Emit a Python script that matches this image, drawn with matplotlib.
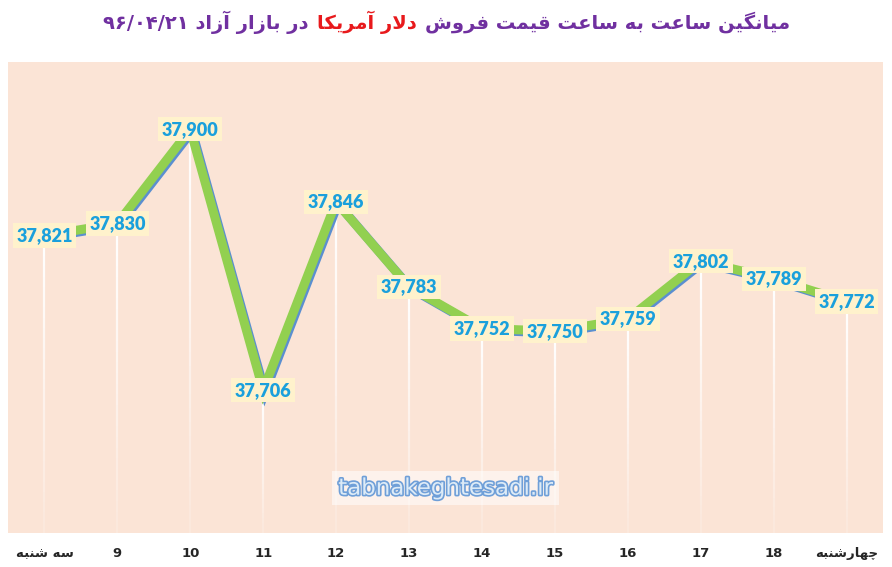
import numpy as np
import matplotlib
matplotlib.use("Agg")
import matplotlib.pyplot as plt
import matplotlib.patheffects as pe
from matplotlib.collections import LineCollection
from matplotlib.offsetbox import TextArea, HPacker, AnchoredOffsetbox

# --- data ---
hours = ["سه شنبه", "9", "10", "11", "12", "13", "14", "15", "16", "17", "18", "چهارشنبه"]
prices = [37821, 37830, 37900, 37706, 37846, 37783, 37752, 37750, 37759, 37802, 37789, 37772]
title_right = "میانگین ساعت به ساعت قیمت فروش"
title_red = "دلار آمریکا"
title_left = "در بازار آزاد ۹۶/۰۴/۲۱"
watermark = "tabnakeghtesadi.ir"

# --- simple Persian shaping (matplotlib has no bidi / shaping) ---
# letter: (isolated, final, initial, medial); two-form letters join only to the right
FORMS = {
    'ا': ('\uFE8D', '\uFE8E'), 'آ': ('\uFE81', '\uFE82'),
    'د': ('\uFEA9', '\uFEAA'), 'ر': ('\uFEAD', '\uFEAE'),
    'ز': ('\uFEAF', '\uFEB0'), 'و': ('\uFEED', '\uFEEE'),
    'ب': ('\uFE8F', '\uFE90', '\uFE91', '\uFE92'),
    'ت': ('\uFE95', '\uFE96', '\uFE97', '\uFE98'),
    'چ': ('\uFB7A', '\uFB7B', '\uFB7C', '\uFB7D'),
    'س': ('\uFEB1', '\uFEB2', '\uFEB3', '\uFEB4'),
    'ش': ('\uFEB5', '\uFEB6', '\uFEB7', '\uFEB8'),
    'ع': ('\uFEC9', '\uFECA', '\uFECB', '\uFECC'),
    'ف': ('\uFED1', '\uFED2', '\uFED3', '\uFED4'),
    'ق': ('\uFED5', '\uFED6', '\uFED7', '\uFED8'),
    'ک': ('\uFB8E', '\uFB8F', '\uFB90', '\uFB91'),
    'گ': ('\uFB92', '\uFB93', '\uFB94', '\uFB95'),
    'ل': ('\uFEDD', '\uFEDE', '\uFEDF', '\uFEE0'),
    'م': ('\uFEE1', '\uFEE2', '\uFEE3', '\uFEE4'),
    'ن': ('\uFEE5', '\uFEE6', '\uFEE7', '\uFEE8'),
    'ه': ('\uFEE9', '\uFEEA', '\uFEEB', '\uFEEC'),
    'ی': ('\uFBFC', '\uFBFD', '\uFBFE', '\uFBFF'),
}
LAM_ALEF = {'ا': ('\uFEFB', '\uFEFC'), 'آ': ('\uFEF5', '\uFEF6')}


def shape(word):
    out = []
    i = 0
    while i < len(word):
        c = word[i]
        if c not in FORMS:
            out.append(c)
            i += 1
            continue
        prev = word[i - 1] if i > 0 else ''
        prev_joins = prev in FORMS and len(FORMS[prev]) == 4
        if c == 'ل' and i + 1 < len(word) and word[i + 1] in LAM_ALEF:
            f = LAM_ALEF[word[i + 1]]
            out.append(f[1] if prev_joins else f[0])
            i += 2
            continue
        nxt = word[i + 1] if i + 1 < len(word) else ''
        forms = FORMS[c]
        next_joins = len(forms) == 4 and nxt in FORMS
        if prev_joins and next_joins:
            out.append(forms[3])
        elif prev_joins:
            out.append(forms[1])
        elif next_joins:
            out.append(forms[2])
        else:
            out.append(forms[0])
        i += 1
    return ''.join(out)


def fa(text):
    # shape, then put in visual order; digit runs stay left to right
    s = shape(text)
    tokens, cur, cur_ltr = [], '', None
    for ch in s:
        ltr = ch.isdigit() or ch in '/.,' or ch.isascii() and ch.isalpha()
        if cur and ltr != cur_ltr:
            tokens.append((cur, cur_ltr))
            cur = ''
        cur += ch
        cur_ltr = ltr
    if cur:
        tokens.append((cur, cur_ltr))
    return ''.join(t if ltr else t[::-1] for t, ltr in reversed(tokens))


# --- figure ---
fig = plt.figure(figsize=(8.92, 5.67), dpi=100, facecolor='white')
ax = fig.add_axes([8 / 892, 1 - 533 / 567, 875 / 892, 471 / 567])
ax.set_facecolor('#FBE4D6')
for s in ax.spines.values():
    s.set_visible(False)

x = np.arange(len(hours))
ybottom, ytop = 37600, 37950
ax.set_xlim(-0.5, len(hours) - 0.5)
ax.set_ylim(ybottom, ytop)
ax.set_yticks([])

# fading white drop lines
for xi, yi in zip(x, prices):
    ys = np.linspace(yi, ybottom, 30)
    segs = [[(xi, ys[k]), (xi, ys[k + 1])] for k in range(len(ys) - 1)]
    alphas = np.linspace(1.0, 0.15, len(segs))
    cols = [(1, 1, 1, a) for a in alphas]
    ax.add_collection(LineCollection(segs, colors=cols, linewidths=1.6, zorder=2))

# green line with blue edge
ax.plot(x, prices, color='#92D050', lw=6.5, solid_joinstyle='miter', zorder=3,
        path_effects=[pe.SimpleLineShadow(offset=(1.3, -1.3), shadow_color='#5B8FD0', alpha=1.0),
                      pe.Normal()])

# data labels
for xi, yi in zip(x, prices):
    ax.text(xi, yi, f"{yi:,}", ha='center', va='center', fontsize=13, fontweight='heavy',
            family='Lato', color='#1AA0DC', zorder=5,
            bbox=dict(boxstyle='square,pad=0.2', fc='#FFF2CC', ec='none'))

# x tick labels
ax.set_xticks(x)
ax.set_xticklabels([fa(h) for h in hours], fontsize=9.5, fontweight='bold', color='#262626')
ax.tick_params(axis='x', length=0, pad=10)

# watermark
ax.text(0.5, 0.095, watermark, transform=ax.transAxes, ha='center', va='center',
        fontsize=16.5, family='DejaVu Sans', color='#DDEBF7', zorder=4,
        path_effects=[pe.withStroke(linewidth=2.4, foreground='#6F9FD8')],
        bbox=dict(boxstyle='square,pad=0.25', fc='white', ec='none', alpha=0.55))

# title in three coloured pieces
tprops = dict(fontsize=14, fontweight='bold', family='DejaVu Sans')
parts = [TextArea(fa(title_left), textprops=dict(color='#7030A0', **tprops)),
         TextArea(fa(title_red), textprops=dict(color='#E8191C', **tprops)),
         TextArea(fa(title_right), textprops=dict(color='#7030A0', **tprops))]
box = HPacker(children=parts, align='baseline', pad=0, sep=6)
anchored = AnchoredOffsetbox(loc='center', child=box, pad=0, frameon=False,
                             bbox_to_anchor=(447 / 892, 1 - 22 / 567),
                             bbox_transform=fig.transFigure, borderpad=0)
fig.add_artist(anchored)

fig.savefig('out.png', dpi=100, facecolor='white')
